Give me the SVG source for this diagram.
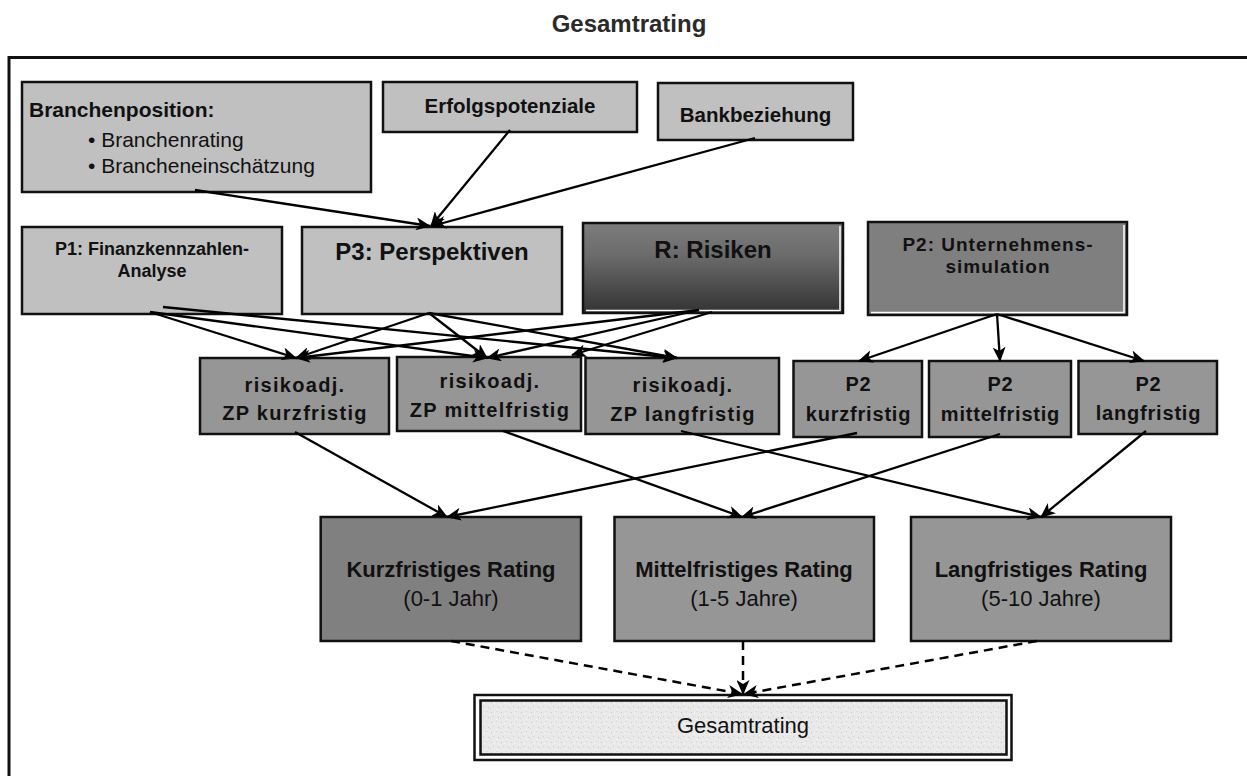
<svg xmlns="http://www.w3.org/2000/svg" width="1247" height="776" viewBox="0 0 1247 776">
<defs>
<style>
text{font-family:"Liberation Sans",Arial,sans-serif;fill:#111}
.b{font-weight:bold}
.box{stroke:#111;stroke-width:2.5}
.l1{fill:#c0c0c0}
.m{fill:#969696}
.d{fill:#808080}
.c{fill:none;stroke:#000;stroke-width:2.3;marker-end:url(#ah)}
.dash{fill:none;stroke:#000;stroke-width:2.5;stroke-dasharray:9 6;marker-end:url(#ah)}
.bev{fill:none;stroke:#fff;stroke-width:1.5}
.sm{font-size:20px;font-weight:bold;letter-spacing:1.3px}
.p2{font-size:20px;font-weight:bold;letter-spacing:0.8px}
.rt{font-size:22px;font-weight:bold}
.rs{font-size:22px}
</style>
<marker id="ah" viewBox="0 0 15 13" refX="14" refY="6.5" markerWidth="15" markerHeight="13" markerUnits="userSpaceOnUse" orient="auto"><path d="M0,0 L15,6.5 L0,13 L4,6.5 z" fill="#000"/></marker>
<linearGradient id="gR" x1="0" y1="0" x2="0" y2="1"><stop offset="0" stop-color="#7c7c7c"/><stop offset="0.35" stop-color="#6c6c6c"/><stop offset="1" stop-color="#333333"/></linearGradient>
<pattern id="spk" width="10" height="10" patternUnits="userSpaceOnUse"><rect width="10" height="10" fill="#e9e9e9"/><rect x="1" y="2" width="1" height="1" fill="#c6c6c6"/><rect x="6" y="1" width="1" height="1" fill="#d2d2d2"/><rect x="3" y="6" width="1" height="1" fill="#cccccc"/><rect x="8" y="7" width="1" height="1" fill="#c4c4c4"/><rect x="4" y="3" width="1" height="1" fill="#f8f8f8"/><rect x="9" y="4" width="1" height="1" fill="#f6f6f6"/><rect x="0" y="8" width="1" height="1" fill="#d6d6d6"/><rect x="6" y="9" width="1" height="1" fill="#fafafa"/></pattern>
</defs>
<rect width="1247" height="776" fill="#fff"/>
<text x="629" y="32" class="b" font-size="24" text-anchor="middle" style="fill:#2a2a2a">Gesamtrating</text>
<rect x="9" y="57.5" width="1300" height="800" fill="none" stroke="#111" stroke-width="3"/>

<g id="branchenposition"><rect class="box l1" x="22" y="82" width="349" height="110"/><text x="29" y="117" class="b" font-size="21">Branchenposition:</text><text x="88" y="147" font-size="21">• Branchenrating</text><text x="88" y="173" font-size="21">• Brancheneinschätzung</text></g>
<g id="erfolgspotenziale"><rect class="box l1" x="383" y="82" width="254" height="50"/><text x="510" y="113" class="b" font-size="20.5" text-anchor="middle">Erfolgspotenziale</text></g>
<g id="bankbeziehung"><rect class="box l1" x="658" y="83" width="195" height="57"/><text x="755.5" y="122" class="b" font-size="20.5" text-anchor="middle">Bankbeziehung</text></g>
<g id="p1"><rect class="box l1" x="22" y="227" width="260" height="87"/><text x="152" y="255" class="b" font-size="18" text-anchor="middle">P1: Finanzkennzahlen-</text><text x="152" y="277" class="b" font-size="18" text-anchor="middle">Analyse</text></g>
<g id="p3"><rect class="box l1" x="302" y="227" width="260" height="87"/><text x="432" y="260" class="b" font-size="24" text-anchor="middle">P3: Perspektiven</text></g>
<g id="r"><rect class="box" x="583" y="223" width="260" height="90" fill="url(#gR)"/><polyline class="bev" points="586,310.5 840,310.5 840,226"/><text x="713" y="258" class="b" font-size="24" text-anchor="middle">R: Risiken</text></g>
<g id="p2u"><rect class="box" x="868" y="222" width="259" height="93" fill="#7f7f7f"/><polyline class="bev" points="871,312.5 1124,312.5 1124,225"/><text x="998" y="251" class="b" font-size="19" letter-spacing="1" text-anchor="middle">P2: Unternehmens-</text><text x="998" y="273" class="b" font-size="19" letter-spacing="1" text-anchor="middle">simulation</text></g>

<g id="zpk"><rect class="box m" x="200" y="358" width="189" height="76"/><text x="295" y="392" class="sm" text-anchor="middle">risikoadj.</text><text x="295" y="420" class="sm" text-anchor="middle">ZP kurzfristig</text></g>
<g id="zpm"><rect class="box m" x="397" y="357" width="184" height="74"/><text x="490" y="388" class="sm" text-anchor="middle">risikoadj.</text><text x="490" y="417" class="sm" text-anchor="middle">ZP mittelfristig</text></g>
<g id="zpl"><rect class="box m" x="585.5" y="358" width="193.5" height="76"/><text x="683" y="392" class="sm" text-anchor="middle">risikoadj.</text><text x="683" y="421" class="sm" text-anchor="middle">ZP langfristig</text></g>
<g id="p2k"><rect class="box m" x="793.5" y="361" width="128.5" height="76"/><text x="858.5" y="391" class="p2" text-anchor="middle">P2</text><text x="858.5" y="421" class="p2" text-anchor="middle">kurzfristig</text></g>
<g id="p2m"><rect class="box m" x="929" y="361" width="142" height="76"/><text x="1000.5" y="391" class="p2" text-anchor="middle">P2</text><text x="1000.5" y="421" class="p2" text-anchor="middle">mittelfristig</text></g>
<g id="p2l"><rect class="box m" x="1078.5" y="361" width="138.5" height="73"/><text x="1148.5" y="391" class="p2" text-anchor="middle">P2</text><text x="1148.5" y="420" class="p2" text-anchor="middle">langfristig</text></g>

<g id="kurz"><rect class="box d" x="320.7" y="517" width="260.3" height="124"/><text x="451" y="577" class="rt" text-anchor="middle">Kurzfristiges Rating</text><text x="451" y="606" class="rs" text-anchor="middle">(0-1 Jahr)</text></g>
<g id="mittel"><rect class="box m" x="614.5" y="517" width="259.5" height="124"/><text x="744" y="577" class="rt" text-anchor="middle">Mittelfristiges Rating</text><text x="744" y="606" class="rs" text-anchor="middle">(1-5 Jahre)</text></g>
<g id="lang"><rect class="box m" x="911" y="517" width="260" height="124"/><text x="1041" y="577" class="rt" text-anchor="middle">Langfristiges Rating</text><text x="1041" y="606" class="rs" text-anchor="middle">(5-10 Jahre)</text></g>
<g id="gesamt"><rect class="box" x="474.5" y="695" width="537" height="65" fill="#fff"/><rect class="box" x="480.5" y="700.5" width="526" height="54" fill="url(#spk)"/><text x="743" y="733" font-size="22" text-anchor="middle">Gesamtrating</text></g>

<g id="connectors">
<path class="c" d="M195,190 L430,226"/>
<path class="c" d="M510,130 L431,226"/>
<path class="c" d="M755,138 L432,226"/>
<path class="c" d="M150,312 L296,358"/>
<path class="c" d="M150,312 L487,358"/>
<path class="c" d="M163,307 L677,358"/>
<path class="c" d="M429,313 L296,358"/>
<path class="c" d="M429,313 L487,358"/>
<path class="c" d="M429,313 L677,358"/>
<path class="c" d="M699,310 L296,358"/>
<path class="c" d="M699,310 L487,358"/>
<path class="c" d="M712,312 L572,355"/>
<path class="c" d="M997,314 L859,361"/>
<path class="c" d="M997,314 L1000,361"/>
<path class="c" d="M997,314 L1144,361"/>
<path class="c" d="M295,432 L447,517"/>
<path class="c" d="M857,433 L447,517"/>
<path class="c" d="M503,431 L742,517"/>
<path class="c" d="M1000,434 L742,517"/>
<path class="c" d="M681,431 L1041,517"/>
<path class="c" d="M1146,431 L1041,517"/>
<path class="dash" d="M451,641 L742,694"/>
<path class="dash" d="M743,641 L743,694"/>
<path class="dash" d="M1037,641 L744,694"/>
</g>
</svg>
